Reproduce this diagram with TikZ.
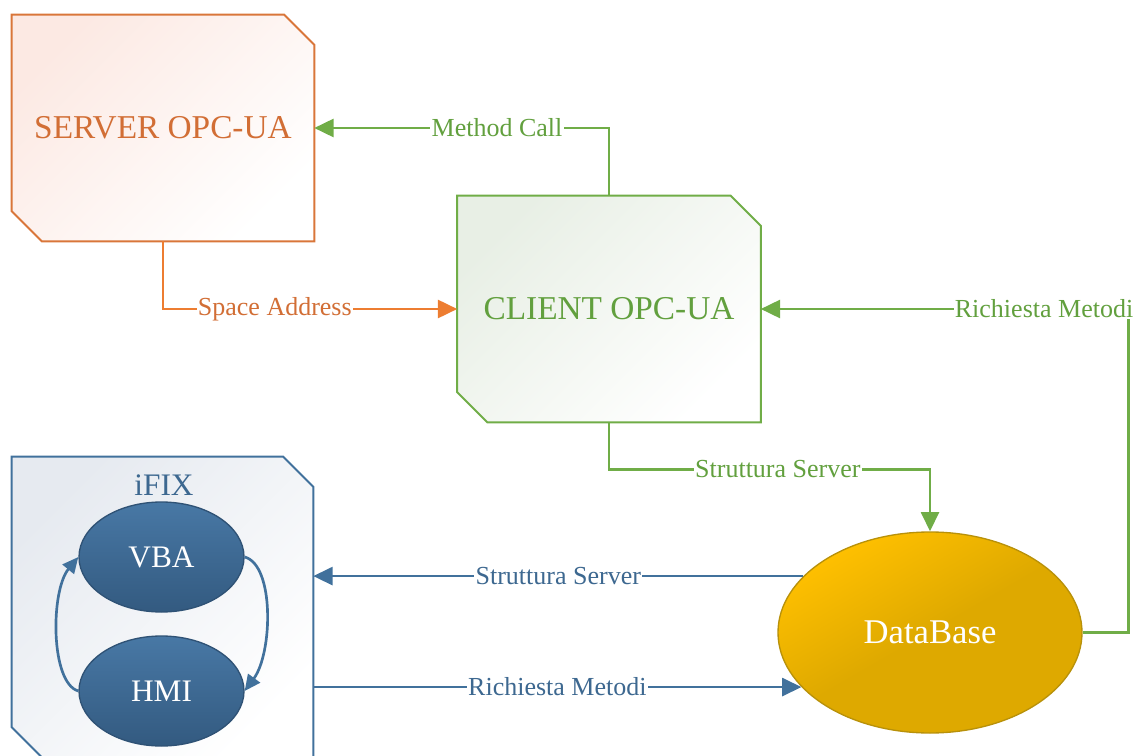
\documentclass[tikz,border=0pt]{standalone}
\usepackage{fontspec}
\setmainfont{Liberation Serif}
\usetikzlibrary{shapes.geometric,arrows.meta}
\pgfdeclarelayer{bg}
\pgfsetlayers{bg,main}
\definecolor{orng}{HTML}{ED7D31}
\definecolor{orngbd}{HTML}{D9763A}
\definecolor{orngtxt}{HTML}{D26E35}
\definecolor{pinklt}{HTML}{FCE9E3}
\definecolor{grn}{HTML}{70AD47}
\definecolor{grntxt}{HTML}{62A03E}
\definecolor{greenlt}{HTML}{E8EFE5}
\definecolor{blu}{HTML}{41719C}
\definecolor{blutxt}{HTML}{3D6890}
\definecolor{bluelt}{HTML}{E6EAF0}
\definecolor{ellbd}{HTML}{2F5275}
\definecolor{ellhi}{HTML}{4878A5}
\definecolor{elllo}{HTML}{335A80}
\definecolor{gold}{HTML}{FFC000}
\definecolor{golddk}{HTML}{DEA900}
\definecolor{goldbd}{HTML}{B8910A}
\newcommand\chamfbox[2]{\path[#2] (#1.north west) -- ([xshift=-22.5pt]#1.north east) -- ([yshift=-22.5pt]#1.north east) -- (#1.south east) -- ([xshift=22.5pt]#1.south west) -- ([yshift=22.5pt]#1.south west) -- cycle;}
\begin{document}
\begin{tikzpicture}[x=0.75pt,y=-0.75pt,
  big/.style={font=\fontsize{25}{28}\selectfont},
  boxn/.style={rectangle, inner sep=0pt},
  ell/.style={ellipse, inner sep=0pt, minimum width=123.75pt, minimum height=82.5pt, draw=ellbd, line width=1pt, top color=ellhi, bottom color=elllo, text=white, font=\fontsize{23.5}{26}\selectfont},
  lbl/.style={fill=white, inner sep=1pt, font=\fontsize{19.5}{22}\selectfont},
  conn/.style={line width=2pt, -{Triangle[length=14.5pt,width=13.5pt]}},
  loopc/.style={line width=2pt, blu, -{Triangle[length=12pt,width=11pt]}},
]
\useasboundingbox (0,0) rectangle (1135,756);
\node[boxn, minimum width=226.5pt, minimum height=169.5pt, big, text=orngtxt] (server) at (163,128) {SERVER OPC-UA};
\node[boxn, minimum width=227.25pt, minimum height=169.5pt, big, text=grntxt] (client) at (609,309) {CLIENT OPC-UA};
\node[boxn, minimum width=225.75pt, minimum height=225pt] (ifix) at (162.5,607) {};
\node[font=\fontsize{23.5}{26}\selectfont, text=blutxt, inner sep=0pt] (ifixlbl) at (164,485) {iFIX};
\begin{pgfonlayer}{bg}
\chamfbox{server}{draw=orngbd, line width=1.5pt, top color=pinklt, bottom color=white, shading angle=45}
\chamfbox{client}{draw=grn, line width=1.5pt, top color=greenlt, bottom color=white, shading angle=45}
\chamfbox{ifix}{draw=blu, line width=1.5pt, top color=bluelt, bottom color=white, shading angle=45}
\end{pgfonlayer}
\node[ell] (vba) at (161.5,557) {VBA};
\node[ell] (hmi) at (161.5,691) {HMI};
\node[ellipse, inner sep=0pt, minimum width=228pt, minimum height=150.75pt, draw=goldbd, line width=1pt, top color=gold, bottom color=golddk, middle color=golddk, shading angle=30, text=white, font=\fontsize{26}{29}\selectfont] (db) at (930,632.5) {DataBase};

\draw[conn, grn] (client.north) |- node[lbl, pos=0.69, text=grntxt] {Method Call} (server.east);
\draw[conn, orng] (server.south) |- node[lbl, pos=0.69, text=orngtxt] {Space Address} (client.west);
\draw[conn, grn] (db.east) -- ++(46,0) |- node[lbl, pos=0.615, text=grntxt] {Richiesta Metodi} (client.east);
\draw[conn, grn] (client.south) -- ++(0,47) -| node[lbl, pos=0.263, text=grntxt] {Struttura Server} (db.north);
\draw[conn, blu] (db.156) -- node[lbl, text=blutxt] {Struttura Server} (db.156 -| ifix.east);
\draw[conn, blu] (db.203 -| ifix.east) -- node[lbl, text=blutxt] {Richiesta Metodi} (db.203);
\draw[loopc] (vba.east) .. controls +(30,8) and +(28,-38) .. (hmi.east);
\draw[loopc] (hmi.west) .. controls +(-28,-8) and +(-28,34) .. (vba.west);
\end{tikzpicture}
\end{document}
